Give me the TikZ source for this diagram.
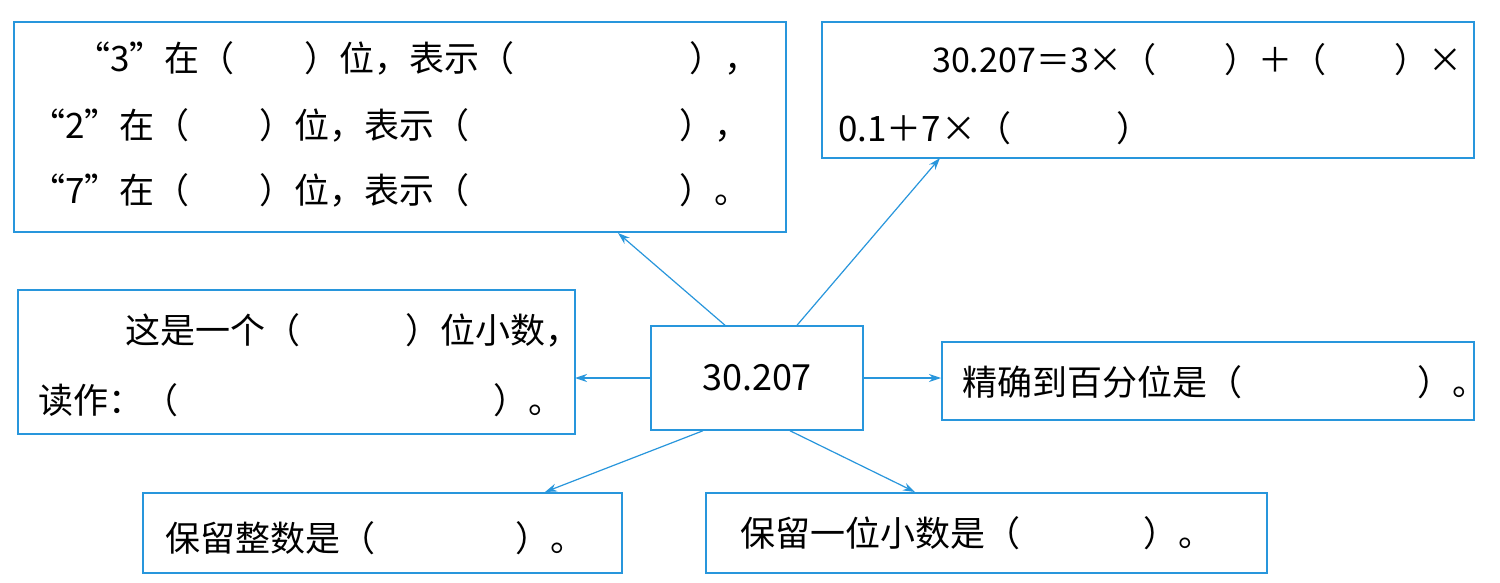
\documentclass[tikz,border=0pt]{standalone}
\usepackage{fontspec}
\usetikzlibrary{arrows.meta}
\setmainfont{Noto Sans CJK SC}
\begin{document}
\begin{tikzpicture}[x=1pt,y=-1pt,
  box/.style={draw=bl,line width=1.5pt,fill=white},
  t/.style={anchor=west,inner sep=0pt,font=\fontsize{35}{38}\selectfont},
  ar/.style={draw=bl,line width=1.2pt,-{Stealth[length=12pt,width=8pt]}}]
\definecolor{bl}{RGB}{40,150,220}
\useasboundingbox (0,0) rectangle (1500,583);
\fill[white] (0,0) rectangle (1500,583);
\draw[box] (14,22) rectangle (786,232);
\coordinate (b1) at (618,233);
\draw[box] (822,22) rectangle (1474,158);
\coordinate (b2) at (940,158);
\draw[box] (18,290) rectangle (575,434);
\coordinate (b3) at (575,378);
\node[box,minimum width=212pt,minimum height=104pt,font=\fontsize{36}{38}\selectfont] (c) at (757,378) {30.207};
\draw[box] (942,342) rectangle (1474,420);
\coordinate (b4) at (941,378);
\draw[box] (143,493) rectangle (622,573);
\coordinate (b5) at (545,492);
\draw[box] (706,493) rectangle (1267,573);
\coordinate (b6) at (915,492);
\node[t] (l1) at (75,58) {“3”在（　　）位，表示（　　　　　），};
\node[t] (l2) at (30,125) {“2”在（　　）位，表示（　　　　　　），};
\node[t] (l3) at (30,190) {“7”在（　　）位，表示（　　　　　　）。};
\node[t,font=\fontsize{34}{38}\selectfont] (r1) at (932,60) {30.207＝3×（　　）＋（　　）×};
\node[t] (r2) at (838,128) {0.1＋7×（　　　）};
\node[t] (m1) at (125,330) {这是一个（　　　）位小数，};
\node[t] (m2) at (38,400) {读作：（　　　　　　　　　）。};
\node[t] (m3) at (962,382) {精确到百分位是（　　　　　）。};
\node[t] (s1) at (165,538) {保留整数是（　　　　）。};
\node[t] (s2) at (740,533) {保留一位小数是（　　　\hspace{18pt}）。};
\draw[ar] ([xshift=-32pt]c.north) -- (b1);
\draw[ar] ([xshift=40pt]c.north) -- (b2);
\draw[ar] (c.west) -- (b3);
\draw[ar] (c.east) -- (b4);
\draw[ar] ([xshift=-54pt]c.south) -- (b5);
\draw[ar] ([xshift=33pt]c.south) -- (b6);
\end{tikzpicture}
\end{document}
